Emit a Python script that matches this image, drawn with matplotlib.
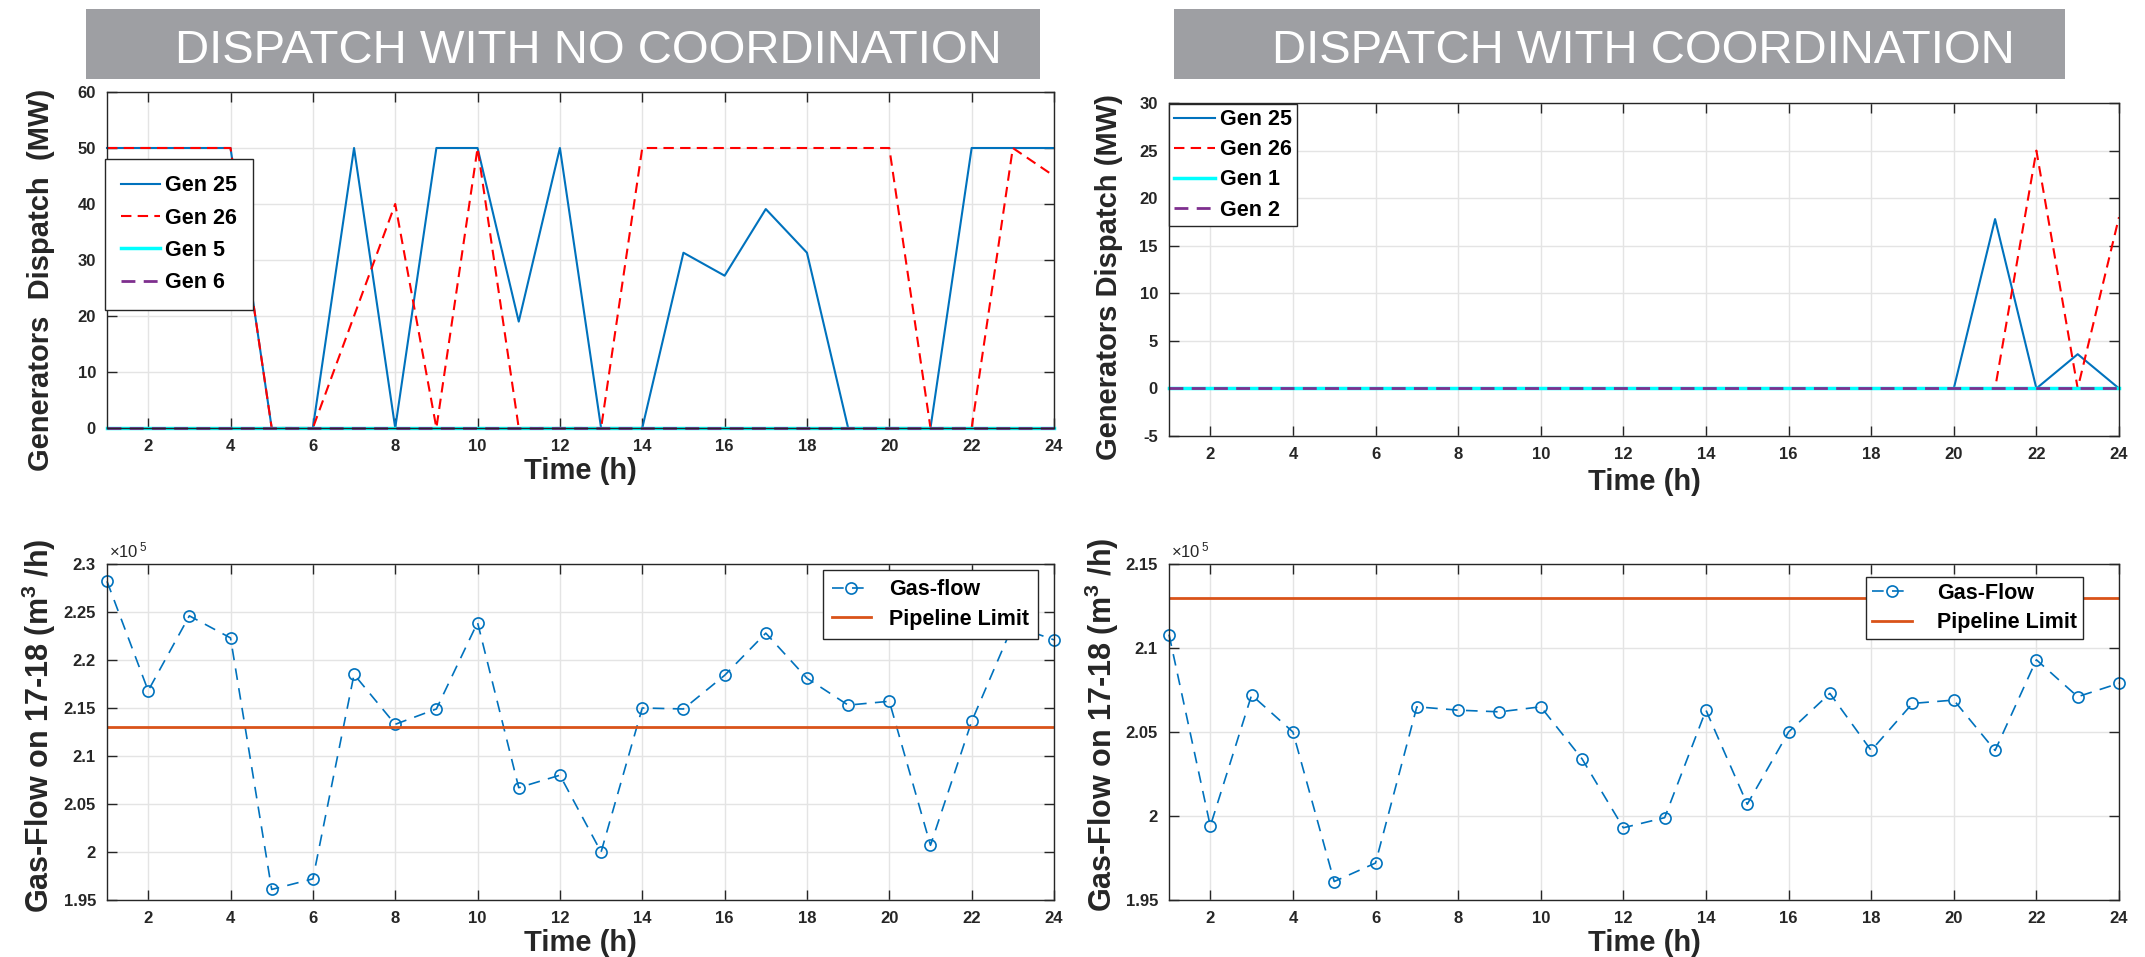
import matplotlib.pyplot as plt
import numpy as np
from matplotlib.patches import Rectangle

plt.rcParams["font.family"] = ["Liberation Sans", "DejaVu Sans"]
plt.rcParams["mathtext.fontset"] = "custom"
plt.rcParams["mathtext.rm"] = "Liberation Sans"
plt.rcParams["mathtext.bf"] = "Liberation Sans:bold"

# ---- data ----
hours = [1, 2, 3, 4, 5, 6, 7, 8, 9, 10, 11, 12, 13, 14, 15, 16, 17, 18, 19, 20, 21, 22, 23, 24]
hour_ticks = [2, 4, 6, 8, 10, 12, 14, 16, 18, 20, 22, 24]

# dispatch without coordination (MW)
gen25_nc = [50, 50, 50, 50, 0, 0, 50, 0, 50, 50, 19, 50, 0, 0, 31.3, 27.2, 39.1, 31.3, 0, 0, 0, 50, 50, 50]
gen26_nc = [50, 50, 50, 50, 0, 0, 20, 40, 0, 50, 0, 0, 0, 50, 50, 50, 50, 50, 50, 50, 0, 0, 50, 45]
gen5_nc = [0, 0, 0, 0, 0, 0, 0, 0, 0, 0, 0, 0, 0, 0, 0, 0, 0, 0, 0, 0, 0, 0, 0, 0]
gen6_nc = [0, 0, 0, 0, 0, 0, 0, 0, 0, 0, 0, 0, 0, 0, 0, 0, 0, 0, 0, 0, 0, 0, 0, 0]

# dispatch with coordination (MW)
gen25_c = [0, 0, 0, 0, 0, 0, 0, 0, 0, 0, 0, 0, 0, 0, 0, 0, 0, 0, 0, 0, 17.8, 0, 3.6, 0]
gen26_c = [0, 0, 0, 0, 0, 0, 0, 0, 0, 0, 0, 0, 0, 0, 0, 0, 0, 0, 0, 0, 0, 25, 0, 18]
gen1_c = [0, 0, 0, 0, 0, 0, 0, 0, 0, 0, 0, 0, 0, 0, 0, 0, 0, 0, 0, 0, 0, 0, 0, 0]
gen2_c = [0, 0, 0, 0, 0, 0, 0, 0, 0, 0, 0, 0, 0, 0, 0, 0, 0, 0, 0, 0, 0, 0, 0, 0]

# gas flow on pipeline 17-18 (x1e5 m3/h)
flow_nc = [2.282, 2.168, 2.246, 2.223, 1.961, 1.972, 2.185, 2.133, 2.149, 2.239, 2.067, 2.080,
           2.000, 2.150, 2.149, 2.184, 2.228, 2.181, 2.153, 2.157, 2.007, 2.136, 2.236, 2.221]
flow_c = [2.108, 1.994, 2.072, 2.050, 1.961, 1.972, 2.065, 2.063, 2.062, 2.065, 2.034, 1.993,
          1.999, 2.063, 2.007, 2.050, 2.073, 2.039, 2.067, 2.069, 2.039, 2.093, 2.071, 2.079]
pipeline_limit = 2.13

dispatch_nc_ticks = [0, 10, 20, 30, 40, 50, 60]
dispatch_c_ticks = [-5, 0, 5, 10, 15, 20, 25, 30]
flow_nc_ticks = [1.95, 2.0, 2.05, 2.1, 2.15, 2.2, 2.25, 2.3]
flow_nc_labels = ["1.95", "2", "2.05", "2.1", "2.15", "2.2", "2.25", "2.3"]
flow_c_ticks = [1.95, 2.0, 2.05, 2.1, 2.15]
flow_c_labels = ["1.95", "2", "2.05", "2.1", "2.15"]

BLUE = "#0072BD"
RED = "#FF0000"
CYAN = "#00FFFF"
PURPLE = "#7E2F8E"
ORANGE = "#D95319"
INK = "#262626"
BOX_GREY = "#9e9fa3"

W, H = 2145, 957
fig = plt.figure(figsize=(W / 100, H / 100), dpi=100)


def px_axes(x0, y0, x1, y1):
    """axes from pixel corners (top-left origin)"""
    return fig.add_axes([x0 / W, 1 - y1 / H, (x1 - x0) / W, (y1 - y0) / H])


def style(ax, ylim, yticks, ylabels=None):
    ax.set_xlim(1, 24)
    ax.set_xticks(hour_ticks, labels=[str(t) for t in hour_ticks], fontweight="bold")
    ax.set_ylim(*ylim)
    if ylabels is None:
        ylabels = [str(t) for t in yticks]
    ax.set_yticks(yticks, labels=ylabels, fontweight="bold")
    ax.grid(True, color="#e4e4e4", lw=1)
    ax.set_axisbelow(True)
    ax.tick_params(direction="in", length=7, width=1, top=True, right=True,
                   colors=INK, labelsize=12, pad=8)
    for s in ax.spines.values():
        s.set_color(INK)
        s.set_linewidth(1)


def legend(ax, x, y, **kw):
    leg = ax.legend(loc="upper left", bbox_to_anchor=(x / W, 1 - y / H),
                    bbox_transform=fig.transFigure, borderaxespad=0,
                    prop={"weight": "bold", "size": 15.5}, fancybox=False,
                    framealpha=1, edgecolor=INK, **kw)
    leg.get_frame().set_linewidth(1)
    return leg


def title_box(x0, x1, text, cx):
    fig.add_artist(Rectangle((x0 / W, 1 - 79 / H), (x1 - x0) / W, 70 / H,
                             transform=fig.transFigure, facecolor=BOX_GREY,
                             edgecolor="none"))
    fig.text(cx / W, 1 - 63 / H, text, ha="center", va="baseline",
             color="white", fontsize=34)


title_box(86, 1040, "DISPATCH WITH NO COORDINATION", 588)
title_box(1174, 2065, "DISPATCH WITH COORDINATION", 1643)

# ---- top left ----
ax = px_axes(107, 92, 1054, 428)
ax.plot(hours, gen25_nc, color=BLUE, lw=1.5, label="Gen 25", clip_on=False)
ax.plot(hours, gen26_nc, color=RED, lw=1.5, ls=(0, (5, 3)), label="Gen 26", clip_on=False)
ax.plot(hours, gen5_nc, color=CYAN, lw=2.5, label="Gen 5", clip_on=False)
ax.plot(hours, gen6_nc, color=PURPLE, lw=2, ls=(0, (5, 3)), label="Gen 6", clip_on=False)
style(ax, (0, 60), dispatch_nc_ticks)
ax.set_xlabel("Time (h)", fontsize=21, fontweight="bold", color=INK, labelpad=2)
ax.set_ylabel("Generators  Dispatch  (MW)", fontsize=21, fontweight="bold", color=INK)
ax.yaxis.set_label_coords(-0.055, 0.44)
legend(ax, 105, 159, handlelength=1.8, handletextpad=0.25, labelspacing=0.53, borderpad=0.75)

# ---- top right ----
ax = px_axes(1169, 103, 2119, 436)
ax.plot(hours, gen25_c, color=BLUE, lw=1.5, label="Gen 25", clip_on=False)
ax.plot(hours, gen26_c, color=RED, lw=1.5, ls=(0, (5, 3)), label="Gen 26", clip_on=False)
ax.plot(hours, gen1_c, color=CYAN, lw=2.5, label="Gen 1", clip_on=False)
ax.plot(hours, gen2_c, color=PURPLE, lw=2, ls=(0, (5, 3)), label="Gen 2", clip_on=False)
style(ax, (-5, 30), dispatch_c_ticks)
ax.set_xlabel("Time (h)", fontsize=21, fontweight="bold", color=INK, labelpad=4)
ax.set_ylabel("Generators Dispatch (MW)", fontsize=21, fontweight="bold", color=INK)
ax.yaxis.set_label_coords(-0.048, 0.477)
legend(ax, 1169, 104, handlelength=1.9, handletextpad=0.2, labelspacing=0.42, borderpad=0.25)

# ---- bottom left ----
ax = px_axes(107, 564, 1054, 900)
ax.plot(hours, flow_nc, color=BLUE, lw=1.2, ls=(0, (7, 5)), marker="o", ms=8,
        mfc="none", mew=1.2, label="Gas-flow", clip_on=False)
ax.axhline(pipeline_limit, color=ORANGE, lw=2, label="Pipeline Limit")
style(ax, (1.95, 2.3), flow_nc_ticks, flow_nc_labels)
ax.text(0.002, 1.012, r"$\times\mathrm{10^{\,5}}$", transform=ax.transAxes,
        ha="left", va="bottom", fontsize=12, color=INK)
ax.set_xlabel("Time (h)", fontsize=21, fontweight="bold", color=INK, labelpad=2)
ax.set_ylabel(r"Gas-Flow on 17-18 (m$\mathbf{^{3}}$ /h)", fontsize=22, fontweight="bold", color=INK)
ax.yaxis.set_label_coords(-0.052, 0.518)
legend(ax, 823, 570, handlelength=1.8, handletextpad=0.85, labelspacing=0.4, borderpad=0.42)

# ---- bottom right ----
ax = px_axes(1169, 564, 2119, 900)
ax.plot(hours, flow_c, color=BLUE, lw=1.2, ls=(0, (7, 5)), marker="o", ms=8,
        mfc="none", mew=1.2, label="Gas-Flow", clip_on=False)
ax.axhline(pipeline_limit, color=ORANGE, lw=2, label="Pipeline Limit")
style(ax, (1.95, 2.15), flow_c_ticks, flow_c_labels)
ax.text(0.002, 1.012, r"$\times\mathrm{10^{\,5}}$", transform=ax.transAxes,
        ha="left", va="bottom", fontsize=12, color=INK)
ax.set_xlabel("Time (h)", fontsize=21, fontweight="bold", color=INK, labelpad=2)
ax.set_ylabel(r"Gas-Flow on 17-18 (m$\mathbf{^{3}}$ /h)", fontsize=22, fontweight="bold", color=INK)
ax.yaxis.set_label_coords(-0.051, 0.521)
legend(ax, 1866, 577, handlelength=1.85, handletextpad=1.2, labelspacing=0.4, borderpad=0.27)

fig.savefig("out.png", dpi=100)
